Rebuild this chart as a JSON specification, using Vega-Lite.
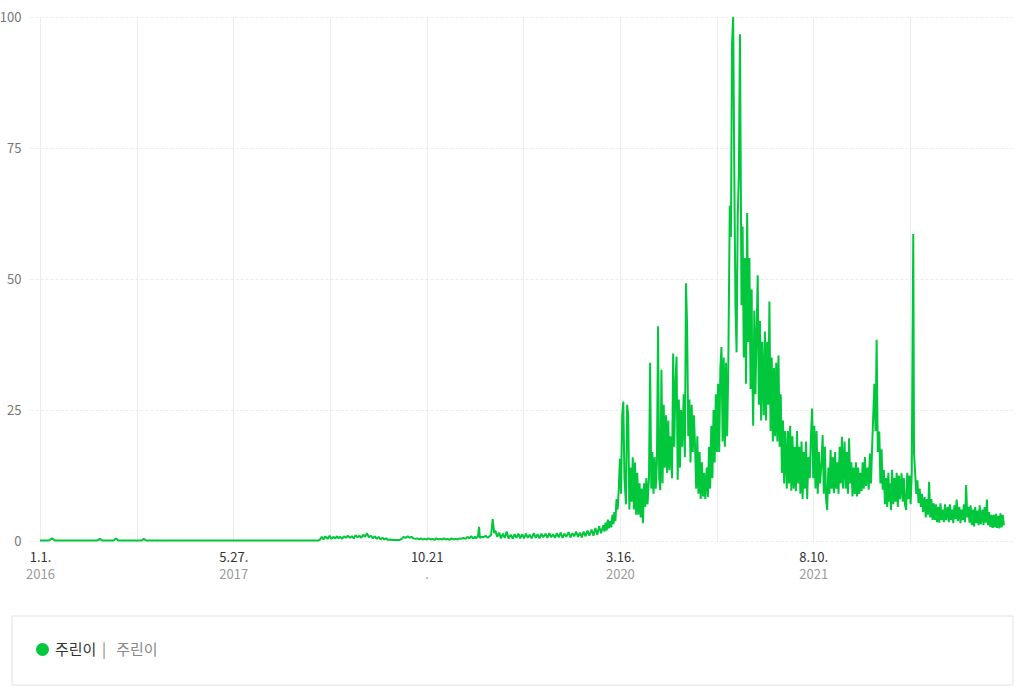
{
  "$schema": "https://vega.github.io/schema/vega-lite/v6.json",
  "width": 982,
  "height": 524,
  "autosize": {"type": "none"},
  "padding": {"left": 30, "top": 17, "right": 13, "bottom": 157},
  "background": "white",
  "config": {"font": "Noto Sans CJK KR", "view": {"stroke": null}},
  "resolve": {"axis": {"x": "independent", "y": "independent"}},
  "layer": [
    {
      "data": {"values": [{}]},
      "mark": {"type": "rect", "fill": "white", "stroke": "#e2e2e2", "strokeWidth": 1},
      "encoding": {
        "x": {
          "datum": {"year": 2015, "month": 10, "date": 19, "utc": true},
          "type": "temporal",
          "scale": {"domain": [{"year": 2015, "month": 12, "date": 5, "hours": 12, "utc": true}, {"year": 2023, "month": 1, "date": 18, "hours": 12, "utc": true}]},
          "axis": {
            "orient": "bottom",
            "title": null,
            "values": [
              {"year": 2016, "month": 1, "date": 1, "utc": true},
              {"year": 2017, "month": 5, "date": 27, "utc": true},
              {"year": 2018, "month": 10, "date": 21, "utc": true},
              {"year": 2020, "month": 3, "date": 16, "utc": true},
              {"year": 2021, "month": 8, "date": 10, "utc": true}
            ],
            "labelExpr": "utcFormat(datum.value,'%Y') == '2018' ? '.' : utcFormat(datum.value,'%Y')",
            "grid": false,
            "ticks": false,
            "domain": false,
            "labelPadding": 27,
            "labelColor": "#9a9a9a",
            "labelFontSize": 13,
            "labelOverlap": false,
            "labelFlush": false
          }
        },
        "x2": {"datum": {"year": 2023, "month": 1, "date": 21, "utc": true}},
        "y": {"datum": -14.31, "type": "quantitative", "scale": {"domain": [0, 100], "nice": false}, "axis": null},
        "y2": {"datum": -27.48}
      }
    },
    {
      "data": {"values": [
        {"date":"2016-01-01","value":0.1},{"date":"2016-01-25","value":0.1},{"date":"2016-02-02","value":0.5},{"date":"2016-02-09","value":0.1},
        {"date":"2016-04-15","value":0.1},{"date":"2016-06-01","value":0.1},{"date":"2016-06-08","value":0.4},{"date":"2016-06-14","value":0.1},
        {"date":"2016-07-14","value":0.1},{"date":"2016-07-20","value":0.5},{"date":"2016-07-26","value":0.1},{"date":"2016-09-26","value":0.1},
        {"date":"2016-10-02","value":0.4},{"date":"2016-10-08","value":0.1},{"date":"2017-02-01","value":0.1},{"date":"2017-06-01","value":0.1},
        {"date":"2017-10-01","value":0.1},
        {"date":"2018-01-01","value":0.1},{"date":"2018-01-06","value":0.1},{"date":"2018-01-11","value":0.2},{"date":"2018-01-16","value":0.8},{"date":"2018-01-21","value":0.3},{"date":"2018-01-26","value":0.9},
        {"date":"2018-02-01","value":0.4},{"date":"2018-02-06","value":1.0},{"date":"2018-02-11","value":0.4},{"date":"2018-02-16","value":0.8},{"date":"2018-02-21","value":0.5},{"date":"2018-02-26","value":0.9},
        {"date":"2018-03-01","value":0.5},{"date":"2018-03-06","value":0.8},{"date":"2018-03-11","value":0.4},{"date":"2018-03-16","value":0.9},{"date":"2018-03-21","value":0.6},{"date":"2018-03-26","value":1.0},
        {"date":"2018-04-01","value":0.6},{"date":"2018-04-06","value":0.9},{"date":"2018-04-11","value":0.5},{"date":"2018-04-16","value":1.1},{"date":"2018-04-21","value":0.7},{"date":"2018-04-26","value":1.0},
        {"date":"2018-05-01","value":0.6},{"date":"2018-05-06","value":1.2},{"date":"2018-05-11","value":0.8},{"date":"2018-05-16","value":1.5},{"date":"2018-05-21","value":0.7},{"date":"2018-05-26","value":1.0},
        {"date":"2018-06-01","value":0.5},{"date":"2018-06-06","value":0.9},{"date":"2018-06-11","value":0.4},{"date":"2018-06-16","value":0.8},{"date":"2018-06-21","value":0.3},{"date":"2018-06-26","value":0.6},
        {"date":"2018-07-01","value":0.3},{"date":"2018-07-06","value":0.5},{"date":"2018-07-11","value":0.2},{"date":"2018-07-16","value":0.3},{"date":"2018-07-21","value":0.2},{"date":"2018-07-26","value":0.2},
        {"date":"2018-08-01","value":0.2},{"date":"2018-08-06","value":0.2},{"date":"2018-08-11","value":0.2},{"date":"2018-08-16","value":0.4},{"date":"2018-08-21","value":0.8},{"date":"2018-08-26","value":0.6},
        {"date":"2018-09-01","value":0.9},{"date":"2018-09-06","value":0.6},{"date":"2018-09-11","value":0.8},{"date":"2018-09-16","value":0.5},{"date":"2018-09-21","value":0.4},{"date":"2018-09-26","value":0.5},
        {"date":"2018-10-01","value":0.3},{"date":"2018-10-06","value":0.5},{"date":"2018-10-11","value":0.3},{"date":"2018-10-16","value":0.4},{"date":"2018-10-21","value":0.3},{"date":"2018-10-26","value":0.5},
        {"date":"2018-11-01","value":0.3},{"date":"2018-11-06","value":0.4},{"date":"2018-11-11","value":0.2},{"date":"2018-11-16","value":0.5},{"date":"2018-11-21","value":0.3},{"date":"2018-11-26","value":0.4},
        {"date":"2018-12-01","value":0.3},{"date":"2018-12-06","value":0.5},{"date":"2018-12-11","value":0.3},{"date":"2018-12-16","value":0.4},{"date":"2018-12-21","value":0.2},{"date":"2018-12-26","value":0.5},
        {"date":"2019-01-01","value":0.3},{"date":"2019-01-06","value":0.4},{"date":"2019-01-11","value":0.3},{"date":"2019-01-16","value":0.5},{"date":"2019-01-21","value":0.4},{"date":"2019-01-26","value":0.6},
        {"date":"2019-02-01","value":0.4},{"date":"2019-02-06","value":0.8},{"date":"2019-02-11","value":0.5},{"date":"2019-02-16","value":0.9},{"date":"2019-02-21","value":0.5},{"date":"2019-02-26","value":0.8},
        {"date":"2019-03-01","value":0.5},{"date":"2019-03-06","value":0.9},{"date":"2019-03-09","value":2.7},{"date":"2019-03-11","value":0.6},{"date":"2019-03-16","value":0.8},{"date":"2019-03-21","value":0.7},{"date":"2019-03-26","value":1.0},
        {"date":"2019-04-01","value":0.6},{"date":"2019-04-06","value":0.9},{"date":"2019-04-10","value":1.2},{"date":"2019-04-14","value":4.2},{"date":"2019-04-18","value":1.5},{"date":"2019-04-21","value":2.0},{"date":"2019-04-26","value":0.8},
        {"date":"2019-05-01","value":1.6},{"date":"2019-05-06","value":0.5},{"date":"2019-05-11","value":1.4},{"date":"2019-05-16","value":0.6},{"date":"2019-05-21","value":1.8},{"date":"2019-05-26","value":0.5},
        {"date":"2019-06-01","value":1.2},{"date":"2019-06-06","value":0.4},{"date":"2019-06-11","value":1.3},{"date":"2019-06-16","value":0.6},{"date":"2019-06-21","value":1.4},{"date":"2019-06-26","value":0.5},
        {"date":"2019-07-01","value":1.3},{"date":"2019-07-06","value":0.5},{"date":"2019-07-11","value":1.4},{"date":"2019-07-16","value":0.6},{"date":"2019-07-21","value":1.2},{"date":"2019-07-26","value":0.5},
        {"date":"2019-08-01","value":1.5},{"date":"2019-08-06","value":0.6},{"date":"2019-08-11","value":1.3},{"date":"2019-08-16","value":0.5},{"date":"2019-08-21","value":1.4},{"date":"2019-08-26","value":0.7},
        {"date":"2019-09-01","value":1.4},{"date":"2019-09-06","value":0.6},{"date":"2019-09-11","value":1.5},{"date":"2019-09-16","value":0.7},{"date":"2019-09-21","value":1.3},{"date":"2019-09-26","value":0.6},
        {"date":"2019-10-01","value":1.5},{"date":"2019-10-06","value":0.7},{"date":"2019-10-11","value":1.6},{"date":"2019-10-16","value":0.6},{"date":"2019-10-21","value":1.4},{"date":"2019-10-26","value":0.8},
        {"date":"2019-11-01","value":1.7},{"date":"2019-11-06","value":0.7},{"date":"2019-11-11","value":1.5},{"date":"2019-11-16","value":0.9},{"date":"2019-11-21","value":1.8},{"date":"2019-11-26","value":0.8},
        {"date":"2019-12-01","value":1.6},{"date":"2019-12-06","value":0.7},{"date":"2019-12-11","value":1.8},{"date":"2019-12-16","value":0.9},{"date":"2019-12-21","value":2.0},{"date":"2019-12-26","value":1.0},
        {"date":"2020-01-01","value":2.2},{"date":"2020-01-06","value":1.0},{"date":"2020-01-11","value":2.5},{"date":"2020-01-16","value":1.2},{"date":"2020-01-21","value":2.8},{"date":"2020-01-26","value":1.5},
        {"date":"2020-02-01","value":3.0},{"date":"2020-02-04","value":1.8},{"date":"2020-02-07","value":3.5},{"date":"2020-02-10","value":2.0},{"date":"2020-02-13","value":4.1},{"date":"2020-02-16","value":2.4},{"date":"2020-02-19","value":3.8},{"date":"2020-02-22","value":2.6},{"date":"2020-02-25","value":5.0},{"date":"2020-02-28","value":3.2},
        {"date":"2020-03-01","value":5.5},{"date":"2020-03-04","value":3.8},{"date":"2020-03-07","value":8},{"date":"2020-03-10","value":6},{"date":"2020-03-13","value":10},{"date":"2020-03-16","value":15.7},{"date":"2020-03-19","value":9},{"date":"2020-03-22","value":24},{"date":"2020-03-25","value":26.6},{"date":"2020-03-28","value":12},
        {"date":"2020-04-01","value":7},{"date":"2020-04-04","value":26},{"date":"2020-04-07","value":24},{"date":"2020-04-10","value":6},{"date":"2020-04-13","value":14},{"date":"2020-04-16","value":7.5},{"date":"2020-04-19","value":16},{"date":"2020-04-22","value":6},{"date":"2020-04-25","value":15},{"date":"2020-04-28","value":5},
        {"date":"2020-05-01","value":13},{"date":"2020-05-04","value":5},{"date":"2020-05-07","value":11},{"date":"2020-05-10","value":4.5},{"date":"2020-05-13","value":10},{"date":"2020-05-16","value":3.4},{"date":"2020-05-19","value":11},{"date":"2020-05-22","value":6.5},{"date":"2020-05-25","value":12},{"date":"2020-05-28","value":7},
        {"date":"2020-06-01","value":12},{"date":"2020-06-04","value":34},{"date":"2020-06-07","value":10},{"date":"2020-06-10","value":17},{"date":"2020-06-13","value":9},{"date":"2020-06-16","value":16},{"date":"2020-06-19","value":10},{"date":"2020-06-22","value":15},{"date":"2020-06-25","value":41},{"date":"2020-06-28","value":12},
        {"date":"2020-07-01","value":9.7},{"date":"2020-07-04","value":32.7},{"date":"2020-07-07","value":11},{"date":"2020-07-10","value":26},{"date":"2020-07-13","value":14},{"date":"2020-07-16","value":24},{"date":"2020-07-19","value":13},{"date":"2020-07-22","value":23},{"date":"2020-07-25","value":13.5},{"date":"2020-07-28","value":20},
        {"date":"2020-08-01","value":12},{"date":"2020-08-04","value":35.8},{"date":"2020-08-07","value":18},{"date":"2020-08-10","value":30},{"date":"2020-08-13","value":35.2},{"date":"2020-08-16","value":11.7},{"date":"2020-08-19","value":27},{"date":"2020-08-22","value":14},{"date":"2020-08-25","value":25},{"date":"2020-08-28","value":18},
        {"date":"2020-09-01","value":28},{"date":"2020-09-04","value":16},{"date":"2020-09-07","value":49.2},{"date":"2020-09-10","value":41},{"date":"2020-09-13","value":20},{"date":"2020-09-16","value":27},{"date":"2020-09-19","value":15},{"date":"2020-09-22","value":26},{"date":"2020-09-25","value":17},{"date":"2020-09-28","value":24},
        {"date":"2020-10-01","value":18},{"date":"2020-10-04","value":10},{"date":"2020-10-07","value":20},{"date":"2020-10-10","value":9},{"date":"2020-10-13","value":17},{"date":"2020-10-16","value":8},{"date":"2020-10-19","value":15},{"date":"2020-10-22","value":8.5},{"date":"2020-10-25","value":13},{"date":"2020-10-28","value":8},
        {"date":"2020-11-01","value":14},{"date":"2020-11-04","value":8.4},{"date":"2020-11-07","value":18},{"date":"2020-11-10","value":10},{"date":"2020-11-13","value":22},{"date":"2020-11-16","value":12},{"date":"2020-11-19","value":25},{"date":"2020-11-22","value":15},{"date":"2020-11-25","value":28},{"date":"2020-11-28","value":17},
        {"date":"2020-12-01","value":30},{"date":"2020-12-04","value":17},{"date":"2020-12-07","value":33},{"date":"2020-12-10","value":37},{"date":"2020-12-13","value":19},{"date":"2020-12-16","value":35},{"date":"2020-12-19","value":18},{"date":"2020-12-22","value":34},{"date":"2020-12-25","value":20},{"date":"2020-12-28","value":33},
        {"date":"2021-01-01","value":64},{"date":"2021-01-04","value":58},{"date":"2021-01-07","value":95},{"date":"2021-01-10","value":100},{"date":"2021-01-13","value":70},{"date":"2021-01-16","value":45},{"date":"2021-01-19","value":36},{"date":"2021-01-22","value":62},{"date":"2021-01-25","value":70},{"date":"2021-01-28","value":96.7},
        {"date":"2021-02-01","value":45},{"date":"2021-02-04","value":60},{"date":"2021-02-07","value":35},{"date":"2021-02-10","value":54},{"date":"2021-02-13","value":30},{"date":"2021-02-16","value":62.6},{"date":"2021-02-19","value":38},{"date":"2021-02-22","value":54},{"date":"2021-02-25","value":29},{"date":"2021-02-28","value":48},
        {"date":"2021-03-01","value":35},{"date":"2021-03-04","value":22},{"date":"2021-03-07","value":44},{"date":"2021-03-10","value":28},{"date":"2021-03-13","value":40},{"date":"2021-03-16","value":50.7},{"date":"2021-03-19","value":26},{"date":"2021-03-22","value":42},{"date":"2021-03-25","value":23},{"date":"2021-03-28","value":38},
        {"date":"2021-04-01","value":24},{"date":"2021-04-04","value":40},{"date":"2021-04-07","value":23},{"date":"2021-04-10","value":38},{"date":"2021-04-13","value":26},{"date":"2021-04-16","value":45.7},{"date":"2021-04-19","value":21},{"date":"2021-04-22","value":35},{"date":"2021-04-25","value":19},{"date":"2021-04-28","value":33},
        {"date":"2021-05-01","value":20},{"date":"2021-05-04","value":34},{"date":"2021-05-07","value":19},{"date":"2021-05-10","value":35.4},{"date":"2021-05-13","value":18},{"date":"2021-05-16","value":28},{"date":"2021-05-19","value":13},{"date":"2021-05-22","value":23},{"date":"2021-05-25","value":11},{"date":"2021-05-28","value":21},
        {"date":"2021-06-01","value":10},{"date":"2021-06-04","value":21},{"date":"2021-06-07","value":11},{"date":"2021-06-10","value":22},{"date":"2021-06-13","value":9.6},{"date":"2021-06-16","value":20},{"date":"2021-06-19","value":10},{"date":"2021-06-22","value":18},{"date":"2021-06-25","value":9.5},{"date":"2021-06-28","value":21},
        {"date":"2021-07-01","value":11},{"date":"2021-07-04","value":18},{"date":"2021-07-07","value":9},{"date":"2021-07-10","value":19},{"date":"2021-07-13","value":8},{"date":"2021-07-16","value":17},{"date":"2021-07-19","value":10},{"date":"2021-07-22","value":19},{"date":"2021-07-25","value":8},{"date":"2021-07-28","value":16},
        {"date":"2021-08-01","value":12},{"date":"2021-08-04","value":20},{"date":"2021-08-07","value":25.3},{"date":"2021-08-10","value":12},{"date":"2021-08-13","value":22},{"date":"2021-08-16","value":10},{"date":"2021-08-19","value":21},{"date":"2021-08-22","value":9},{"date":"2021-08-25","value":17},{"date":"2021-08-28","value":11},
        {"date":"2021-09-01","value":15},{"date":"2021-09-04","value":20.2},{"date":"2021-09-07","value":9},{"date":"2021-09-10","value":18},{"date":"2021-09-13","value":8},{"date":"2021-09-16","value":5.9},{"date":"2021-09-19","value":14},{"date":"2021-09-22","value":9},{"date":"2021-09-25","value":17.4},{"date":"2021-09-28","value":10},
        {"date":"2021-10-01","value":16},{"date":"2021-10-04","value":9.1},{"date":"2021-10-07","value":17},{"date":"2021-10-10","value":10},{"date":"2021-10-13","value":15},{"date":"2021-10-16","value":9},{"date":"2021-10-19","value":18},{"date":"2021-10-22","value":11},{"date":"2021-10-25","value":19.9},{"date":"2021-10-28","value":10},
        {"date":"2021-11-01","value":19},{"date":"2021-11-04","value":10},{"date":"2021-11-07","value":17},{"date":"2021-11-10","value":9},{"date":"2021-11-13","value":19.6},{"date":"2021-11-16","value":11},{"date":"2021-11-19","value":15},{"date":"2021-11-22","value":8.5},{"date":"2021-11-25","value":14},{"date":"2021-11-28","value":9},
        {"date":"2021-12-01","value":15},{"date":"2021-12-04","value":8.5},{"date":"2021-12-07","value":14},{"date":"2021-12-10","value":9},{"date":"2021-12-13","value":13},{"date":"2021-12-16","value":9.5},{"date":"2021-12-19","value":15},{"date":"2021-12-22","value":10},{"date":"2021-12-25","value":16},{"date":"2021-12-28","value":10.5},
        {"date":"2022-01-01","value":14},{"date":"2022-01-04","value":9.8},{"date":"2022-01-07","value":16.7},{"date":"2022-01-10","value":11},{"date":"2022-01-13","value":18},{"date":"2022-01-16","value":24},{"date":"2022-01-19","value":30},{"date":"2022-01-22","value":21},{"date":"2022-01-25","value":38.4},{"date":"2022-01-28","value":17},
        {"date":"2022-02-01","value":20.9},{"date":"2022-02-04","value":11},{"date":"2022-02-07","value":17.5},{"date":"2022-02-10","value":9.8},{"date":"2022-02-13","value":13.6},{"date":"2022-02-16","value":7},{"date":"2022-02-19","value":12},{"date":"2022-02-22","value":6.5},{"date":"2022-02-25","value":13},{"date":"2022-02-28","value":7.5},
        {"date":"2022-03-01","value":11},{"date":"2022-03-04","value":5.9},{"date":"2022-03-07","value":13.6},{"date":"2022-03-10","value":7},{"date":"2022-03-13","value":12},{"date":"2022-03-16","value":7.5},{"date":"2022-03-19","value":13},{"date":"2022-03-22","value":6.5},{"date":"2022-03-25","value":12.5},{"date":"2022-03-28","value":8},
        {"date":"2022-04-01","value":12.9},{"date":"2022-04-04","value":7.5},{"date":"2022-04-07","value":12},{"date":"2022-04-10","value":7},{"date":"2022-04-13","value":5.9},{"date":"2022-04-16","value":13},{"date":"2022-04-19","value":8},{"date":"2022-04-22","value":12.5},{"date":"2022-04-25","value":7},{"date":"2022-04-28","value":13},
        {"date":"2022-05-02","value":58.6},{"date":"2022-05-04","value":16.7},{"date":"2022-05-07","value":12.9},{"date":"2022-05-10","value":9},{"date":"2022-05-13","value":11.6},{"date":"2022-05-16","value":7.2},{"date":"2022-05-19","value":10},{"date":"2022-05-22","value":6.5},{"date":"2022-05-25","value":9},{"date":"2022-05-28","value":5.5},
        {"date":"2022-06-01","value":8.4},{"date":"2022-06-04","value":4.5},{"date":"2022-06-07","value":8},{"date":"2022-06-10","value":5},{"date":"2022-06-13","value":11.3},{"date":"2022-06-16","value":4.5},{"date":"2022-06-19","value":8},{"date":"2022-06-22","value":4},{"date":"2022-06-25","value":7.2},{"date":"2022-06-28","value":4},
        {"date":"2022-07-01","value":7},{"date":"2022-07-04","value":3.6},{"date":"2022-07-07","value":6.5},{"date":"2022-07-10","value":3.5},{"date":"2022-07-13","value":7.2},{"date":"2022-07-16","value":4},{"date":"2022-07-19","value":6},{"date":"2022-07-22","value":3.6},{"date":"2022-07-25","value":7},{"date":"2022-07-28","value":4},
        {"date":"2022-08-01","value":6.5},{"date":"2022-08-04","value":3.6},{"date":"2022-08-07","value":7},{"date":"2022-08-10","value":4},{"date":"2022-08-13","value":6},{"date":"2022-08-16","value":3.4},{"date":"2022-08-19","value":6.8},{"date":"2022-08-22","value":4.2},{"date":"2022-08-25","value":7.9},{"date":"2022-08-28","value":3.8},
        {"date":"2022-09-01","value":6.5},{"date":"2022-09-04","value":3.4},{"date":"2022-09-07","value":6},{"date":"2022-09-10","value":4},{"date":"2022-09-13","value":7},{"date":"2022-09-16","value":3.6},{"date":"2022-09-19","value":10.7},{"date":"2022-09-22","value":4.5},{"date":"2022-09-25","value":6.5},{"date":"2022-09-28","value":3.5},
        {"date":"2022-10-01","value":6.8},{"date":"2022-10-04","value":3},{"date":"2022-10-07","value":6},{"date":"2022-10-10","value":2.8},{"date":"2022-10-13","value":6.5},{"date":"2022-10-16","value":3.4},{"date":"2022-10-19","value":5.8},{"date":"2022-10-22","value":3},{"date":"2022-10-25","value":6.8},{"date":"2022-10-28","value":3.2},
        {"date":"2022-11-01","value":6},{"date":"2022-11-04","value":3},{"date":"2022-11-07","value":6.5},{"date":"2022-11-10","value":3.5},{"date":"2022-11-13","value":7.9},{"date":"2022-11-16","value":3},{"date":"2022-11-19","value":5.5},{"date":"2022-11-22","value":2.7},{"date":"2022-11-25","value":5},{"date":"2022-11-28","value":2.5},
        {"date":"2022-12-01","value":5},{"date":"2022-12-04","value":2.6},{"date":"2022-12-07","value":5.2},{"date":"2022-12-10","value":2.5},{"date":"2022-12-13","value":4.8},{"date":"2022-12-16","value":2.4},{"date":"2022-12-19","value":5.3},{"date":"2022-12-22","value":2.6},{"date":"2022-12-25","value":5},{"date":"2022-12-28","value":3}
      ]},
      "mark": {"type": "line", "strokeWidth": 2, "strokeJoin": "bevel"},
      "encoding": {
        "x": {
          "field": "date",
          "type": "temporal",
          "scale": {"domain": [{"year": 2015, "month": 12, "date": 5, "hours": 12, "utc": true}, {"year": 2023, "month": 1, "date": 18, "hours": 12, "utc": true}]},
          "axis": {
            "orient": "bottom",
            "title": null,
            "values": [
              {"year": 2016, "month": 1, "date": 1, "utc": true},
              {"year": 2016, "month": 9, "date": 13, "utc": true},
              {"year": 2017, "month": 5, "date": 27, "utc": true},
              {"year": 2018, "month": 2, "date": 7, "utc": true},
              {"year": 2018, "month": 10, "date": 21, "utc": true},
              {"year": 2019, "month": 7, "date": 4, "utc": true},
              {"year": 2020, "month": 3, "date": 16, "utc": true},
              {"year": 2020, "month": 11, "date": 27, "utc": true},
              {"year": 2021, "month": 8, "date": 10, "utc": true},
              {"year": 2022, "month": 4, "date": 23, "utc": true}
            ],
            "labelExpr": "utcFormat(datum.value,'%Y-%m-%d') == '2018-10-21' ? '10.21' : (indexof(['2016-01-01','2017-05-27','2020-03-16','2021-08-10'], utcFormat(datum.value,'%Y-%m-%d')) >= 0 ? utcFormat(datum.value,'%-m.%-d.') : '')",
            "grid": true,
            "gridColor": "#ececec",
            "ticks": false,
            "domain": false,
            "labelPadding": 10,
            "labelColor": "#333333",
            "labelFontSize": 13,
            "labelOverlap": false,
            "labelFlush": false
          }
        },
        "y": {
          "field": "value",
          "type": "quantitative",
          "scale": {"domain": [0, 100], "nice": false},
          "axis": {
            "orient": "left",
            "title": null,
            "values": [0, 25, 50, 75, 100],
            "grid": true,
            "gridColor": "#ececec",
            "gridDash": [3, 2],
            "ticks": false,
            "domain": false,
            "labelPadding": 9,
            "labelColor": "#777777",
            "labelFontSize": 13
          }
        },
        "color": {
          "datum": "주린이",
          "scale": {"range": ["#00c73c"]},
          "legend": {
            "orient": "none",
            "legendX": 5,
            "legendY": 625,
            "padding": 0,
            "title": "|\u00a0\u00a0\u00a0주린이",
            "titleOrient": "right",
            "titleColor": "#888888",
            "titleFontSize": 15,
            "titleFontWeight": "normal",
            "titlePadding": 6,
            "labelColor": "#333333",
            "labelFontSize": 15,
            "labelFontWeight": "normal",
            "labelOffset": 5,
            "symbolType": "circle",
            "symbolSize": 169,
            "symbolFillColor": "#00c73c",
            "symbolStrokeColor": "#00c73c",
            "symbolStrokeWidth": 0
          }
        }
      }
    }
  ]
}
